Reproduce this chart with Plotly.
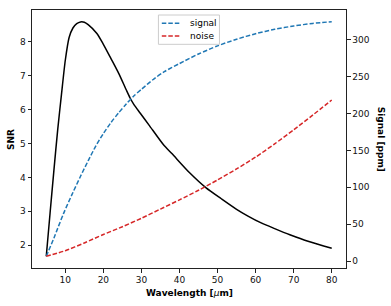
import plotly.graph_objects as go

# ---- data ----
snr_wl = [5, 6, 7, 8, 9, 10, 11, 12, 13, 14, 15, 16, 18.3, 20, 22, 24, 26, 27.06, 28, 29.7,
          32, 35.8, 38, 42.8, 47, 51, 55, 58, 61.6, 65, 69, 74, 80]
snr_vals = [1.675, 2.95, 4.2, 5.4, 6.45, 7.45, 8.12, 8.4, 8.53, 8.58, 8.57, 8.5, 8.24, 7.92, 7.5,
            7.07, 6.58, 6.33, 6.15, 5.89, 5.54, 4.96, 4.7, 4.12, 3.69, 3.37, 3.06, 2.86, 2.65,
            2.49, 2.31, 2.11, 1.91]

sig_wl = [5, 7, 9.5, 12, 14, 16, 18, 20, 22, 24, 26, 28, 30, 33, 36, 40, 45, 50, 55, 60, 65, 70, 75, 80]
signal_vals = [6.4, 31, 64, 93, 115, 136, 156, 173, 188, 201, 213, 224, 233, 246, 257, 268, 281,
               292, 301, 308.5, 314.5, 319, 322.5, 324.8]

noise_wl = [5, 10, 15, 20, 25, 30, 35, 40, 45, 50, 55, 60, 65, 70, 75, 80]
noise_vals = [6.4, 14, 24.5, 36, 46.5, 58, 70.5, 83, 96, 110, 125, 141, 159, 178, 198, 218.5]

x_ticks = [10, 20, 30, 40, 50, 60, 70, 80]
snr_ticks = [2, 3, 4, 5, 6, 7, 8]
sig_ticks = [0, 50, 100, 150, 200, 250, 300]

BLUE = "#1f77b4"
RED = "#d62728"
FONT = "DejaVu Sans"
FS = 9
DASH = "4.5px,2px"

fig = go.Figure()
fig.add_trace(go.Scatter(x=snr_wl, y=snr_vals, mode="lines", name="SNR",
                         line=dict(color="black", width=1.5, shape="spline", smoothing=0.7),
                         showlegend=False))
fig.add_trace(go.Scatter(x=sig_wl, y=signal_vals, mode="lines", name="signal", yaxis="y2",
                         line=dict(color=BLUE, width=1.5, dash=DASH, shape="spline", smoothing=0.7),
                         showlegend=False))
fig.add_trace(go.Scatter(x=noise_wl, y=noise_vals, mode="lines", name="noise", yaxis="y2",
                         line=dict(color=RED, width=1.5, dash=DASH, shape="spline", smoothing=0.7),
                         showlegend=False))

axis_common = dict(showgrid=False, zeroline=False, showline=True, linecolor="#222", linewidth=1,
                   ticks="outside", ticklen=3.5, tickwidth=1, tickcolor="#222", automargin=False,
                   tickfont=dict(family=FONT, size=FS, color="#111"))

fig.update_layout(
    width=391, height=306,
    margin=dict(l=32, r=45.3, t=10, b=38),
    paper_bgcolor="white", plot_bgcolor="white",
    font=dict(family=FONT, size=FS, color="#111"),
    xaxis=dict(range=[1.25, 83.75], tickvals=x_ticks, mirror=True, **axis_common),
    yaxis=dict(range=[1.3295, 8.9305], tickvals=snr_ticks, **axis_common),
    yaxis2=dict(range=[-9.5, 340.7], tickvals=sig_ticks, overlaying="y", side="right", **axis_common),
    showlegend=False,
)

# axis titles
fig.add_annotation(text="<b>SNR</b>", xref="paper", yref="paper", x=-0.067, y=0.5,
                   xanchor="center", yanchor="middle",
                   textangle=-90, showarrow=False, font=dict(family=FONT, size=FS, color="#000"))
fig.add_annotation(text="<b>Signal [ppm]</b>", xref="paper", yref="paper", x=1.1125, y=0.5,
                   xanchor="center", yanchor="middle",
                   textangle=90, showarrow=False, font=dict(family=FONT, size=FS, color="#000"))
fig.add_annotation(text="<b>Wavelength [</b><i>μ</i><b>m]</b>", xref="paper", yref="paper",
                   x=0.5, y=-0.097, xanchor="center", yanchor="middle",
                   showarrow=False, font=dict(family=FONT, size=FS, color="#000"))

# legend (drawn manually to match the compact matplotlib style)
fig.add_shape(type="rect", xref="paper", yref="paper", x0=0.4026, x1=0.597, y0=0.867, y1=0.9806,
              line=dict(color="#cccccc", width=1), fillcolor="rgba(255,255,255,0.8)")
for name, col, yy in [("signal", BLUE, 0.9484), ("noise", RED, 0.899)]:
    fig.add_shape(type="line", xref="paper", yref="paper", x0=0.4134, x1=0.4719, y0=yy, y1=yy,
                  line=dict(color=col, width=1.5, dash=DASH))
    fig.add_annotation(text=name, xref="paper", yref="paper", x=0.497, y=yy, xanchor="left",
                       yanchor="middle", showarrow=False,
                       font=dict(family=FONT, size=FS, color="#000"))

fig.write_html("out.html", config={"displayModeBar": False},
               post_script="document.body.style.margin='0';")
